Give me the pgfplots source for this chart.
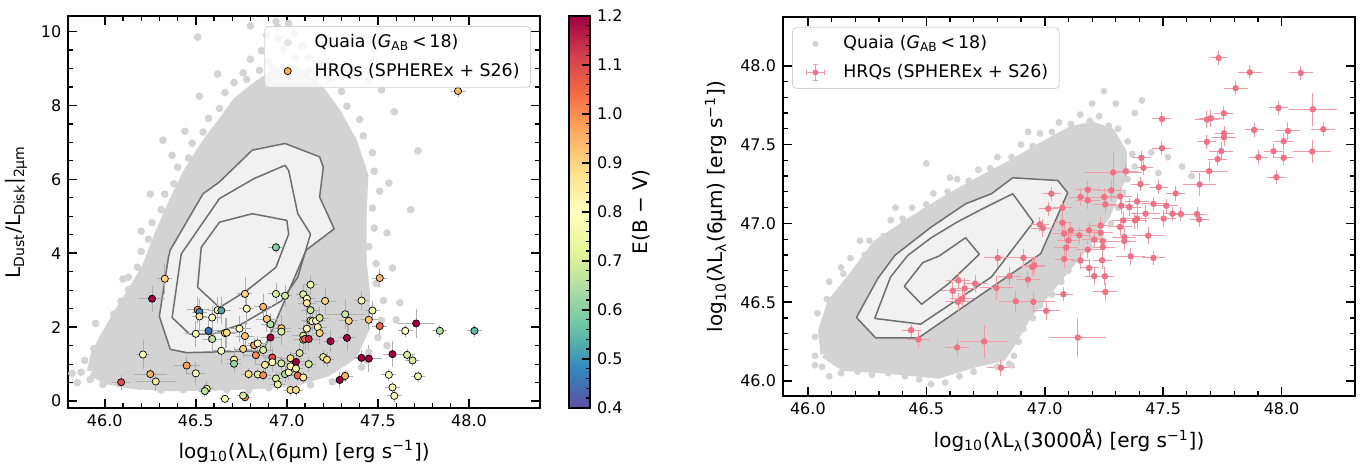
\documentclass[border=0pt]{standalone}
\usepackage{fontspec}
\setmainfont{DejaVu Sans}
\usepackage{pgfplots}
\pgfplotsset{compat=1.18}
\usepackage{pgfplotstable}

\definecolor{quaia}{RGB}{211,211,211}
\definecolor{hrq}{RGB}{236,100,120}
\definecolor{cfill}{RGB}{241,241,241}
\definecolor{cline}{RGB}{110,110,110}
\definecolor{errgray}{RGB}{175,175,175}
\definecolor{legorange}{RGB}{252,172,96}

\pgfplotsset{
 colormap={spectralr}{rgb255=(94,79,162) rgb255=(50,136,189) rgb255=(102,194,165) rgb255=(171,221,164) rgb255=(230,245,152) rgb255=(255,255,191) rgb255=(254,224,139) rgb255=(253,174,97) rgb255=(244,109,67) rgb255=(213,62,79) rgb255=(158,1,66)},
 mystyle/.style={
  scale only axis,
  tick align=inside,
  tick pos=both,
  axis line style={line width=0.9pt},
  major tick length=4.5pt, minor tick length=2.5pt,
  major tick style={line width=0.8pt,black},
  minor tick style={line width=0.6pt,black},
  /pgf/number format/assume math mode=true,
  tick label style={font=\fontsize{8}{9.6}\selectfont},
  label style={font=\fontsize{10}{12}\selectfont},
  legend style={font=\fontsize{8.7}{10.4}\selectfont, draw=gray!35, rounded corners=2pt, fill=white, fill opacity=0.8, text opacity=1, row sep=2.2pt, inner xsep=3.5pt, inner ysep=2pt, cells={anchor=west}},
  legend cell align=left,
 }
}

\pgfplotstableread{
x y ex ey c
46.33 3.31 0.03 0.35 0.90
46.26 2.77 0.06 0.30 1.20
46.09 0.51 0.04 0.15 1.10
46.21 1.26 0.03 0.35 0.78
46.25 0.73 0.08 0.10 0.96
46.28 0.53 0.10 0.20 0.86
46.45 0.96 0.06 0.20 0.98
46.50 0.75 0.04 0.25 0.80
46.56 0.33 0.03 0.15 0.85
46.55 0.27 0.02 0.10 0.66
46.66 0.06 0.02 0.05 0.80
46.77 0.10 0.02 0.05 1.00
46.76 0.15 0.02 0.05 0.70
46.51 2.47 0.05 0.30 1.00
46.52 2.41 0.03 0.30 0.50
46.52 2.29 0.03 0.30 0.86
46.50 1.82 0.05 0.30 0.76
46.57 1.90 0.05 0.25 0.45
46.59 1.68 0.04 0.30 0.66
46.59 2.26 0.04 0.25 0.80
46.62 2.46 0.04 0.30 0.80
46.64 2.45 0.04 0.30 0.52
46.64 1.36 0.04 0.30 0.80
46.66 1.84 0.05 0.35 0.90
46.67 1.85 0.05 0.35 0.88
46.71 1.12 0.03 0.30 0.82
46.71 1.01 0.03 0.10 0.62
46.74 1.96 0.05 0.30 0.80
46.77 1.76 0.04 0.30 0.92
46.76 1.41 0.04 0.20 0.90
46.77 2.90 0.03 0.40 0.90
46.78 2.50 0.03 0.40 0.80
46.79 0.73 0.03 0.10 0.88
46.84 0.72 0.03 0.10 0.70
46.87 0.70 0.03 0.10 1.00
46.82 1.51 0.05 0.15 0.98
46.84 1.56 0.04 0.15 0.80
46.87 1.38 0.04 0.15 0.70
46.83 1.24 0.06 0.20 1.00
46.88 0.98 0.04 0.20 0.85
46.87 2.55 0.04 0.30 0.95
46.89 2.22 0.05 0.30 0.92
46.91 2.08 0.04 0.25 0.65
46.91 1.72 0.04 0.30 1.20
46.92 1.18 0.04 0.20 1.10
46.92 1.05 0.04 0.20 0.80
46.94 2.90 0.03 0.25 0.70
46.99 2.85 0.03 0.25 0.68
46.97 1.97 0.04 0.30 0.90
46.97 1.88 0.04 0.30 0.70
46.97 1.02 0.03 0.15 0.70
46.94 0.61 0.03 0.15 0.70
46.95 0.45 0.03 0.10 0.72
46.99 0.73 0.04 0.15 0.64
47.01 0.78 0.04 0.15 0.80
47.02 0.94 0.04 0.15 0.82
47.02 1.16 0.05 0.15 0.88
47.05 1.06 0.05 0.20 1.20
47.05 0.88 0.03 0.15 0.75
47.02 0.30 0.03 0.10 0.88
47.05 0.30 0.03 0.10 0.88
47.06 0.69 0.03 0.10 1.05
47.09 0.64 0.03 0.10 0.85
47.07 1.30 0.03 0.20 0.70
47.12 1.00 0.03 0.15 0.70
47.09 2.89 0.03 0.20 0.70
47.11 2.77 0.04 0.20 0.80
47.11 2.65 0.04 0.30 0.85
47.13 2.46 0.04 0.30 0.68
47.13 3.15 0.03 0.20 0.75
47.13 2.18 0.04 0.25 0.75
47.14 2.16 0.04 0.25 0.80
47.16 2.17 0.04 0.25 0.80
47.18 2.25 0.04 0.25 0.70
47.17 2.00 0.04 0.25 0.82
47.11 1.96 0.04 0.25 0.82
47.09 1.77 0.05 0.25 0.70
47.09 1.66 0.04 0.25 0.95
47.10 1.68 0.05 0.25 1.05
47.12 1.68 0.05 0.25 1.15
47.18 1.84 0.03 0.25 0.90
47.21 2.71 0.05 0.30 0.90
47.20 1.19 0.03 0.15 0.72
47.22 1.12 0.03 0.15 0.88
47.24 1.62 0.03 0.25 1.20
47.32 2.35 0.10 0.35 0.68
47.34 2.17 0.04 0.25 0.90
47.33 1.71 0.04 0.30 1.20
47.29 0.57 0.03 0.15 1.20
47.32 0.68 0.03 0.10 0.95
47.41 2.72 0.03 0.20 0.80
47.47 2.45 0.03 0.20 0.75
47.45 2.20 0.04 0.20 0.92
47.51 3.33 0.03 0.20 0.95
47.51 2.03 0.03 0.20 1.05
47.41 1.17 0.03 0.15 1.20
47.45 1.15 0.06 0.30 1.20
47.58 1.27 0.04 0.30 1.20
47.56 0.71 0.03 0.10 0.80
47.58 0.37 0.03 0.10 0.80
47.59 0.14 0.03 0.10 0.80
47.65 1.90 0.03 0.10 0.80
47.66 1.25 0.03 0.10 0.70
47.69 1.10 0.03 0.10 0.70
47.72 0.67 0.03 0.10 0.75
47.71 2.10 0.09 0.35 1.20
47.84 1.90 0.03 0.10 0.65
48.03 1.90 0.03 0.10 0.55
46.94 4.16 0.03 0.10 0.60
47.94 8.39 0.03 0.10 0.95
}\hrqL

\pgfplotstableread{
x y ex ey
47.734 48.049 0.025 0.03
47.866 47.958 0.04 0.03
48.081 47.954 0.04 0.03
47.806 47.857 0.04 0.03
47.987 47.732 0.03 0.03
48.132 47.724 0.09 0.09
47.495 47.662 0.03 0.03
47.685 47.658 0.04 0.04
47.701 47.667 0.04 0.04
47.756 47.698 0.03 0.03
47.884 47.593 0.03 0.03
48.027 47.586 0.04 0.04
48.176 47.597 0.04 0.03
47.757 47.572 0.03 0.03
47.757 47.546 0.04 0.04
47.685 47.517 0.03 0.03
48.009 47.521 0.03 0.04
47.495 47.477 0.03 0.03
47.745 47.458 0.04 0.04
47.966 47.458 0.03 0.03
48.129 47.456 0.07 0.06
47.730 47.407 0.03 0.03
47.902 47.420 0.03 0.03
48.009 47.416 0.03 0.03
47.408 47.416 0.03 0.03
47.417 47.352 0.03 0.03
47.289 47.323 0.11 0.12
47.343 47.331 0.04 0.03
47.694 47.331 0.07 0.05
47.978 47.293 0.03 0.03
47.404 47.249 0.03 0.03
47.481 47.230 0.03 0.03
47.654 47.247 0.06 0.06
47.281 47.209 0.05 0.05
47.028 47.188 0.03 0.03
47.182 47.213 0.04 0.04
47.553 47.190 0.03 0.03
47.151 47.167 0.04 0.04
47.182 47.146 0.04 0.04
47.251 47.167 0.04 0.04
47.318 47.171 0.04 0.04
47.459 47.124 0.04 0.03
47.390 47.139 0.04 0.04
47.256 47.120 0.04 0.04
47.323 47.112 0.04 0.04
47.357 47.103 0.04 0.04
47.513 47.112 0.04 0.03
47.015 47.093 0.03 0.03
47.075 47.099 0.03 0.03
47.426 47.061 0.05 0.04
47.539 47.061 0.03 0.03
47.575 47.059 0.03 0.03
47.643 47.059 0.03 0.03
47.652 47.025 0.03 0.03
47.502 47.030 0.04 0.04
47.390 47.030 0.04 0.05
47.381 47.019 0.04 0.04
47.332 47.019 0.04 0.04
47.075 47.004 0.03 0.04
46.979 46.994 0.03 0.03
46.992 46.970 0.04 0.04
47.236 46.987 0.04 0.04
47.318 46.977 0.04 0.04
47.110 46.956 0.04 0.04
47.187 46.956 0.04 0.04
47.236 46.941 0.04 0.04
47.082 46.935 0.04 0.04
47.146 46.924 0.04 0.04
47.336 46.913 0.04 0.04
47.437 46.922 0.06 0.04
47.100 46.892 0.04 0.04
47.209 46.897 0.04 0.04
47.245 46.888 0.04 0.04
47.336 46.888 0.04 0.04
47.091 46.846 0.04 0.04
47.182 46.833 0.04 0.04
47.245 46.850 0.04 0.04
47.082 46.774 0.03 0.04
47.151 46.766 0.03 0.04
47.242 46.766 0.03 0.04
47.363 46.791 0.05 0.04
47.459 46.781 0.04 0.03
46.802 46.781 0.05 0.04
46.910 46.781 0.05 0.04
47.187 46.717 0.03 0.04
46.947 46.724 0.04 0.04
46.956 46.734 0.04 0.04
46.851 46.665 0.04 0.04
47.209 46.665 0.03 0.04
47.254 46.665 0.03 0.04
46.929 46.643 0.04 0.04
46.635 46.639 0.04 0.04
46.706 46.618 0.04 0.04
46.612 46.572 0.04 0.04
46.662 46.587 0.04 0.05
46.796 46.591 0.06 0.06
46.652 46.523 0.04 0.04
46.634 46.502 0.04 0.04
46.878 46.506 0.06 0.05
46.952 46.502 0.08 0.05
47.079 46.551 0.03 0.03
47.256 46.565 0.04 0.04
47.006 46.445 0.05 0.04
46.436 46.323 0.03 0.03
46.467 46.264 0.04 0.04
46.630 46.213 0.04 0.04
46.744 46.251 0.09 0.09
47.140 46.276 0.11 0.11
46.815 46.084 0.05 0.04
}\hrqR

\begin{document}
\begin{tikzpicture}
\path[use as bounding box] (0,0) rectangle (682.5pt,231.5pt);

% ---------------- LEFT PANEL ----------------
\begin{axis}[mystyle,
  at={(34.15pt,27.65pt)}, anchor=south west,
  width=235.85pt, height=195.85pt,
  xmin=45.8, xmax=48.39, ymin=-0.18, ymax=10.42,
  xtick={46,46.5,47,47.5,48}, xticklabels={46.0,46.5,47.0,47.5,48.0},
  ytick={0,2,4,6,8,10}, yticklabels={0,2,4,6,8,10},
  minor x tick num=4, minor y tick num=3,
  xlabel={log\textsubscript{10}(λL\textsubscript{λ}(6μm) [erg s\textsuperscript{−1}])},
  ylabel={L\textsubscript{Dust}/L\textsubscript{Disk}|\textsubscript{2μm}},
  colormap name=spectralr,
  point meta min=0.4, point meta max=1.2,
  colorbar,
  colorbar shift/.style={xshift=14.5pt},
  colorbar style={
    at={(parent axis.north east)}, anchor=north west,
    scale only axis, width=10.5pt,
    ytick={0.4,0.5,0.6,0.7,0.8,0.9,1.0,1.1,1.2},
    yticklabels={0.4,0.5,0.6,0.7,0.8,0.9,1.0,1.1,1.2},
    minor y tick num=4,
    tick align=inside, ytick pos=right, yticklabel pos=right,
    major tick length=4pt, minor tick length=2pt,
    major tick style={line width=0.8pt,black},
    minor tick style={line width=0.6pt,black},
    axis line style={line width=0.9pt},
    tick label style={font=\fontsize{8}{9.6}\selectfont},
    ylabel={E(B − V)},
    ylabel shift=-2pt,
    ylabel style={font=\fontsize{10}{12}\selectfont},
  },
  legend style={at={(1,1)}, anchor=north east, xshift=-4.5pt, yshift=-5pt},
]
\addlegendimage{legend image code/.code={\path[draw=none,fill=none] (0pt,-3pt) rectangle (19.5pt,3pt); \filldraw[fill=quaia!60, draw=quaia!60, line width=0pt, fill opacity=1, draw opacity=1] (8pt,0pt) circle (1.7pt);}}
\addlegendentry{Quaia (\textit{G}\textsubscript{AB}\,<\,18)}
\addlegendimage{legend image code/.code={\path[draw=none,fill=none] (0pt,-3pt) rectangle (19.5pt,3pt); \filldraw[fill=legorange, draw=black, line width=0.35pt, fill opacity=1, draw opacity=1] (8pt,0pt) circle (1.8pt);}}
\addlegendentry{HRQs (SPHEREx + S26)}

% Quaia cloud: dense core
\addplot[fill=quaia, draw=quaia, line width=5pt, line join=round, forget plot] coordinates {
(45.93,0.80) (46.02,0.58) (46.15,0.46) (46.37,0.40) (46.61,0.42) (46.85,0.46) (47.06,0.56) (47.22,0.80) (47.36,1.25) (47.43,2.0) (47.43,2.9) (47.41,3.8) (47.41,5.0) (47.42,6.1) (47.36,7.0) (47.27,7.8) (47.18,8.4) (47.06,8.9) (46.95,8.9) (46.83,8.5) (46.73,8.1) (46.64,7.5) (46.55,6.9) (46.46,6.2) (46.38,5.4) (46.30,4.5) (46.23,3.6) (46.15,2.95) (46.08,2.4) (46.01,1.8) (45.95,1.25) (45.93,0.80)};
% Quaia cloud: individual points around the core
\addplot[only marks, mark=*, mark size=1.7pt, color=quaia, forget plot] coordinates {
(45.87,0.78) (45.89,1.10) (45.92,0.58) (45.94,1.42) (45.97,1.15) (45.99,1.72) (46.03,2.02) (45.99,0.45) (46.05,2.35) (46.09,2.70) (46.13,3.02) (46.13,3.35) (46.18,3.62) (46.20,4.05) (46.24,4.38) (46.26,4.83) (46.31,5.18) (46.33,5.60) (46.38,5.88) (46.40,6.33) (46.46,6.58) (46.48,6.98) (46.54,7.28) (46.57,7.65) (46.63,7.92) (46.66,8.35) (46.71,8.62) (46.76,8.88) (46.80,9.25) (46.86,9.48) (46.89,9.90) (46.95,10.12) (47.01,10.22) (47.04,9.95) (47.09,9.62) (47.12,9.30) (47.20,9.08) (47.24,8.72) (47.30,8.38) (47.33,7.98) (47.40,7.62) (47.42,7.18) (47.47,6.72) (47.48,6.22) (47.51,5.68) (47.47,5.22) (47.48,4.68) (47.45,4.18) (47.49,3.72) (47.49,3.18) (47.53,2.72) (47.52,2.18) (47.50,1.72) (47.45,1.32) (47.41,0.92) (47.32,0.72) (47.25,0.52) (47.13,0.44) (47.03,0.36) (46.90,0.36) (46.79,0.29) (46.67,0.31) (46.55,0.27) (46.43,0.31) (46.31,0.30) (46.19,0.40) (46.08,0.47)
(46.90,9.20) (46.98,9.50) (47.05,9.30) (47.12,8.95) (46.85,8.95) (46.95,9.80) (47.00,8.95) (46.78,8.70) (47.15,8.70) (46.92,9.05) (47.08,9.60)
(46.51,9.85) (46.32,7.06) (46.37,6.65) (46.10,3.30) (45.82,0.75) (45.85,0.50) (47.59,7.83) (47.72,6.77) (47.68,5.18) (47.55,4.55) (47.58,3.60) (47.62,2.66) (47.60,2.20) (47.44,1.10) (46.94,10.27) (46.80,10.15) (47.45,8.69) (47.52,8.42) (46.52,8.25) (46.20,4.60) (46.05,1.20) (45.95,2.10) (47.56,5.90) (47.36,8.80) (46.44,7.30) (46.62,8.85) (47.55,1.50) (46.25,5.60)};

% contours
\addplot[fill=cfill, draw=cline, line width=0.75pt, line join=round, forget plot] coordinates {
(46.45,1.31) (46.87,1.36) (47.107,4.09) (47.26,4.66) (47.18,5.52) (47.20,6.33) (47.18,6.61) (46.99,6.97) (46.81,6.79) (46.63,5.93) (46.54,5.61) (46.36,4.09) (46.35,3.89) (46.30,2.29) (46.36,1.40) (46.45,1.31)};
\addplot[draw=cline, line width=0.75pt, line join=round, forget plot] coordinates {
(46.466,1.81) (46.59,1.81) (46.75,2.08) (46.97,2.71) (47.06,3.35) (47.13,4.52) (47.06,5.07) (47.01,6.24) (46.99,6.38) (46.82,6.02) (46.63,5.48) (46.42,3.98) (46.37,2.26) (46.466,1.81)};
\addplot[draw=cline, line width=0.75pt, line join=round, forget plot] coordinates {
(46.51,3.08) (46.53,4.16) (46.63,4.84) (46.81,5.07) (47.00,4.89) (47.01,4.52) (46.94,3.62) (46.78,2.99) (46.63,2.53) (46.51,3.08)};

% HRQs
\addplot[scatter, only marks, mark=*, mark size=1.8pt, scatter src=explicit,
  scatter/use mapped color={draw=black, fill=mapped color},
  mark options={line width=0.35pt}, forget plot,
  error bars/.cd, x dir=both, x explicit, y dir=both, y explicit,
  error bar style={color=errgray, line width=0.4pt},
  error mark options={color=errgray, mark size=1pt, line width=0.4pt}]
  table[x=x, y=y, x error=ex, y error=ey, meta=c] {\hrqL};
\end{axis}

% ---------------- RIGHT PANEL ----------------
\begin{axis}[mystyle,
  at={(391.5pt,33.5pt)}, anchor=south west,
  width=286pt, height=189.35pt,
  xmin=45.895, xmax=48.31, ymin=45.905, ymax=48.307,
  xtick={46,46.5,47,47.5,48}, xticklabels={46.0,46.5,47.0,47.5,48.0},
  ytick={46,46.5,47,47.5,48}, yticklabels={46.0,46.5,47.0,47.5,48.0},
  minor x tick num=4, minor y tick num=4,
  xlabel={log\textsubscript{10}(λL\textsubscript{λ}(3000Å) [erg s\textsuperscript{−1}])},
  ylabel={log\textsubscript{10}(λL\textsubscript{λ}(6μm) [erg s\textsuperscript{−1}])},
  legend style={at={(0,1)}, anchor=north west, xshift=4.5pt, yshift=-5pt},
]
\addlegendimage{legend image code/.code={\path[draw=none,fill=none] (0pt,-3pt) rectangle (20pt,3pt); \fill[quaia, draw=none, fill opacity=1] (8pt,0pt) circle (1.5pt);}}
\addlegendentry{Quaia (\textit{G}\textsubscript{AB}\,<\,18)}
\addlegendimage{legend image code/.code={\path[draw=none,fill=none] (0pt,-4pt) rectangle (20pt,4pt);
  \draw[hrq!65, line width=0.5pt, fill=none, draw opacity=1] (3.5pt,0pt) -- (12.5pt,0pt) (8pt,-4pt) -- (8pt,4pt) (3.5pt,-1.2pt) -- (3.5pt,1.2pt) (12.5pt,-1.2pt) -- (12.5pt,1.2pt) (6.8pt,4pt) -- (9.2pt,4pt) (6.8pt,-4pt) -- (9.2pt,-4pt);
  \fill[hrq!90, draw=none, fill opacity=1] (8pt,0pt) circle (1.5pt);}}
\addlegendentry{HRQs (SPHEREx + S26)}

\addplot[fill=quaia, draw=quaia, line width=4pt, line join=round, forget plot] coordinates {
(46.07,46.17) (46.06,46.32) (46.10,46.50) (46.18,46.65) (46.29,46.87) (46.43,47.01) (46.58,47.15) (46.71,47.26) (46.85,47.37) (47.00,47.50) (47.11,47.59) (47.20,47.62) (47.28,47.58) (47.33,47.45) (47.33,47.30) (47.26,47.05) (47.15,46.82) (47.04,46.62) (46.93,46.42) (46.86,46.24) (46.82,46.15) (46.70,46.11) (46.55,46.04) (46.35,46.07) (46.15,46.09) (46.07,46.17)};
\addplot[only marks, mark=*, mark size=1.5pt, color=quaia, forget plot] coordinates {
(46.03,46.16) (46.03,46.28) (46.04,46.43) (46.08,46.52) (46.09,46.63) (46.15,46.68) (46.18,46.78) (46.24,46.80) (46.26,46.89) (46.32,46.92) (46.35,47.02) (46.40,47.03) (46.44,47.10) (46.50,47.12) (46.53,47.19) (46.59,47.20) (46.63,47.28) (46.68,47.27) (46.72,47.34) (46.77,47.35) (46.80,47.42) (46.86,47.42) (46.90,47.50) (46.95,47.49) (46.98,47.57) (47.03,47.58) (47.06,47.64) (47.11,47.63) (47.15,47.69) (47.19,47.65) (47.23,47.68) (47.27,47.62) (47.31,47.60) (47.35,47.52) (47.37,47.44) (47.38,47.36) (47.35,47.28) (47.33,47.19) (47.31,47.10) (47.28,47.00) (47.23,46.92) (47.19,46.85) (47.15,46.76) (47.10,46.70) (47.07,46.63) (47.03,46.55) (46.98,46.48) (46.95,46.40) (46.91,46.33) (46.89,46.25) (46.87,46.16) (46.86,46.10) (46.80,46.09) (46.74,46.12) (46.70,46.06) (46.64,46.03) (46.58,45.99) (46.52,45.98) (46.47,46.01) (46.41,46.03) (46.34,46.05) (46.27,46.04) (46.21,46.06) (46.14,46.05) (46.09,46.03) (46.06,46.09)
(46.50,47.38) (47.25,47.84) (47.41,47.78) (47.58,47.36) (47.62,47.30) (46.22,46.89) (46.85,46.11) (46.91,46.40) (47.20,47.76) (47.30,47.76) (47.45,47.45) (47.52,47.42) (46.03,46.10) (46.37,47.10) (47.38,47.70) (47.48,47.32) (46.14,46.72) (46.60,47.29) (46.93,47.58)};

\addplot[fill=cfill, draw=cline, line width=0.75pt, line join=round, forget plot] coordinates {
(46.205,46.403) (46.286,46.274) (46.467,46.274) (46.983,46.808) (47.097,47.194) (47.055,47.272) (46.865,47.289) (46.775,47.188) (46.666,47.124) (46.521,46.977) (46.367,46.797) (46.295,46.650) (46.205,46.403)};
\addplot[draw=cline, line width=0.75pt, line join=round, forget plot] coordinates {
(46.282,46.397) (46.476,46.361) (46.775,46.660) (46.952,47.008) (46.865,47.188) (46.738,47.093) (46.630,47.008) (46.521,46.909) (46.422,46.797) (46.349,46.660) (46.282,46.397)};
\addplot[draw=cline, line width=0.75pt, line join=round, forget plot] coordinates {
(46.407,46.601) (46.480,46.487) (46.594,46.618) (46.724,46.804) (46.666,46.909) (46.554,46.793) (46.485,46.751) (46.407,46.601)};

\addplot[only marks, mark=*, mark size=1.4pt, color=hrq!90, forget plot,
  error bars/.cd, x dir=both, x explicit, y dir=both, y explicit,
  error bar style={color=hrq!65, line width=0.5pt},
  error mark options={color=hrq!65, mark size=1.2pt, line width=0.5pt}]
  table[x=x, y=y, x error=ex, y error=ey] {\hrqR};
\end{axis}
\end{tikzpicture}
\end{document}
